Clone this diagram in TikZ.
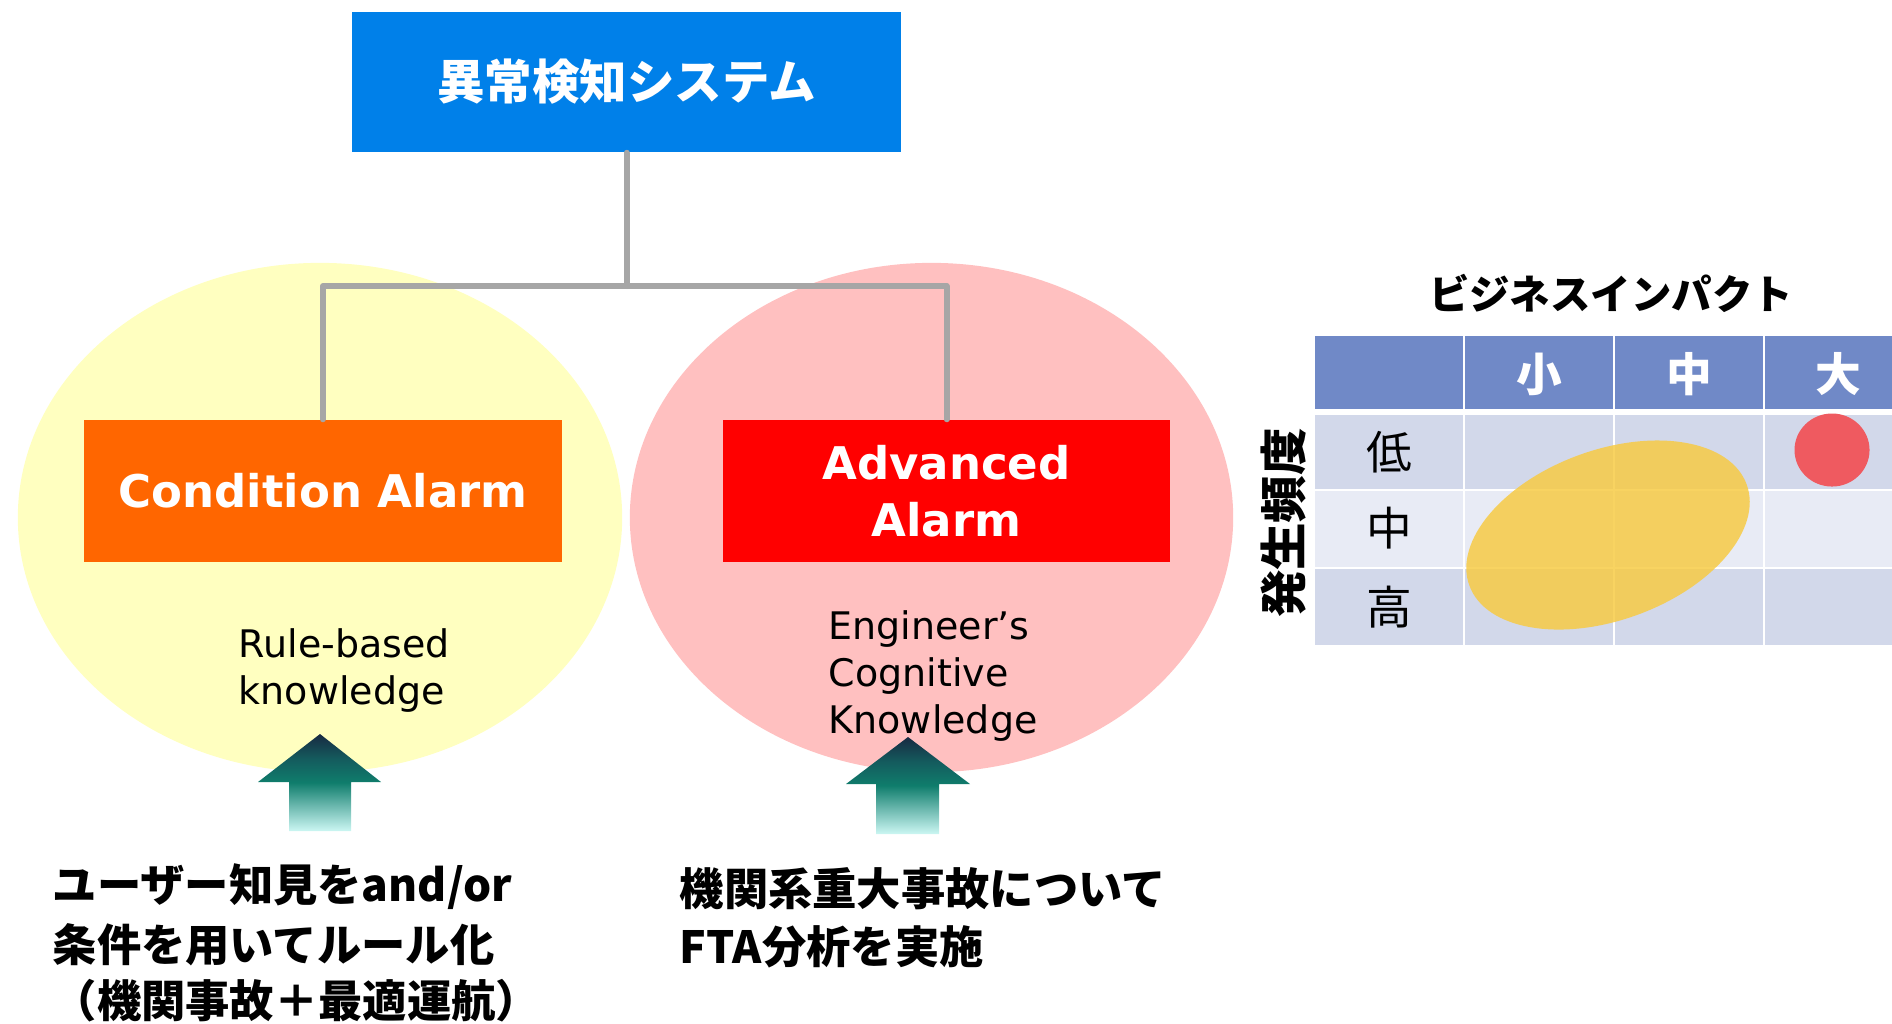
\documentclass[tikz,border=0pt]{standalone}
\usepackage{fontspec}
\setmainfont{DejaVu Sans}
\newfontfamily\jp{Noto Sans CJK JP}
\definecolor{topblue}{HTML}{0080E9}
\definecolor{condorange}{HTML}{FF6600}
\definecolor{advred}{HTML}{FF0000}
\definecolor{yellowfill}{HTML}{FFFFC0}
\definecolor{pinkfill}{HTML}{FFC0C0}
\definecolor{linegray}{HTML}{A6A6A6}
\definecolor{hdrblue}{HTML}{7089C7}
\definecolor{rowA}{HTML}{D2D8EA}
\definecolor{rowB}{HTML}{E8EBF5}
\definecolor{ellgold}{HTML}{F7CB45}
\definecolor{dotred}{HTML}{EF5A60}
\definecolor{arrtop}{HTML}{182A42}
\definecolor{arrupper}{HTML}{145C5E}
\definecolor{arrmid}{HTML}{0F7D6C}
\definecolor{arrlow}{HTML}{6BB8AE}
\definecolor{arrbot}{HTML}{CCF7F3}
\pgfdeclareverticalshading{arrowshade}{100bp}{color(0bp)=(arrbot); color(25bp)=(arrbot); color(38bp)=(arrlow); color(50bp)=(arrmid); color(62bp)=(arrupper); color(75bp)=(arrtop); color(100bp)=(arrtop)}
\begin{document}
\begin{tikzpicture}[x=0.01cm,y=-0.01cm,
  conn/.style={draw=linegray, line width=1.7pt, line join=round, line cap=round},
  alarmbox/.style={inner sep=0pt, text=white, align=center,
    font=\bfseries\fontsize{12.8}{16.1}\selectfont},
  bodyline/.style={inner sep=0pt, anchor=base west, font=\fontsize{10.8}{13.4}\selectfont},
  jpline/.style={inner sep=0pt, anchor=west, font=\jp\bfseries\fontsize{12.6}{15}\selectfont},
  hdrtext/.style={inner sep=0pt, text=white, font=\jp\bfseries\fontsize{13}{15}\selectfont},
  rowtext/.style={inner sep=0pt, font=\jp\fontsize{13}{15}\selectfont},
  uparrow/.style={shading=arrowshade}]
\useasboundingbox (0,0) rectangle (1892,1023);

% background ellipses
\fill[yellowfill] (320,517.5) ellipse [x radius=3.02cm, y radius=2.545cm];
\fill[pinkfill] (931.5,517.5) ellipse [x radius=3.015cm, y radius=2.545cm];

% main nodes
\node[fill=topblue, minimum width=5.49cm, minimum height=1.40cm, inner sep=0pt,
  text=white, font=\jp\bfseries\fontsize{13.5}{16}\selectfont] (top) at (626.5,82) {異常検知システム};
\node[fill=condorange, minimum width=4.78cm, minimum height=1.42cm, alarmbox] (cond) at (323,491) {Condition Alarm};
\node[fill=advred, minimum width=4.47cm, minimum height=1.42cm, alarmbox] (adv) at (946.5,491) {Advanced\\Alarm};

% connectors
\coordinate (bus) at (626.5,286);
\draw[conn] (top.south) -- (bus);
\draw[conn] (bus) -| (cond.north);
\draw[conn] (bus) -| (adv.north);

% arrows
\shade[uparrow] (320,734) -- (381,782) -- (351,782) -- (351,831) -- (289,831) -- (289,782) -- (258,782) -- cycle;
\shade[uparrow] (908,737) -- (970,784) -- (939,784) -- (939,834) -- (876,834) -- (876,784) -- (846,784) -- cycle;

% body text
\node[bodyline] (rb1) at (238,657) {Rule-based};
\node[bodyline] (rb2) at (238,704) {knowledge};
\node[bodyline] (ec1) at (828,639) {Engineer’s};
\node[bodyline] (ec2) at (828,686) {Cognitive};
\node[bodyline] (ec3) at (828,733) {Knowledge};

% bottom Japanese text
\node[jpline] (l1) at (52,887) {ユーザー知見をand/or};
\node[jpline] (l2) at (52,945) {条件を用いてルール化};
\node[jpline] (l3) at (52,1001) {（機関事故＋最適運航）};
\node[jpline] (r1) at (679,889) {機関系重大事故について};
\node[jpline] (r2) at (679,947) {FTA分析を実施};

% matrix
\node[inner sep=0pt, font=\jp\bfseries\fontsize{11.5}{14}\selectfont] (impact) at (1611,293) {ビジネスインパクト};
\foreach \xa/\xb in {1315/1463,1465/1613,1615/1763,1765/1892} {
  \fill[hdrblue] (\xa,336) rectangle (\xb,409);
  \fill[rowA] (\xa,415) rectangle (\xb,489);
  \fill[rowB] (\xa,491) rectangle (\xb,567);
  \fill[rowA] (\xa,569) rectangle (\xb,645);
}
\fill[ellgold, fill opacity=0.85, rotate around={20:(1608,535)}] (1608,535) ellipse [x radius=1.475cm, y radius=0.85cm];
\fill[dotred] (1832,450) ellipse [x radius=0.375cm, y radius=0.365cm];

\node[hdrtext] (hs) at (1539,374) {小};
\node[hdrtext] (hm) at (1689,374) {中};
\node[hdrtext] (hl) at (1838,374) {大};
\node[rowtext] (rlow) at (1389,452) {低};
\node[rowtext] (rmid) at (1389,528) {中};
\node[rowtext] (rhigh) at (1389,607) {高};
\node[rotate=90, inner sep=0pt, font=\jp\bfseries\fontsize{13.5}{16}\selectfont] (freq) at (1284,523) {発生頻度};
\end{tikzpicture}
\end{document}
